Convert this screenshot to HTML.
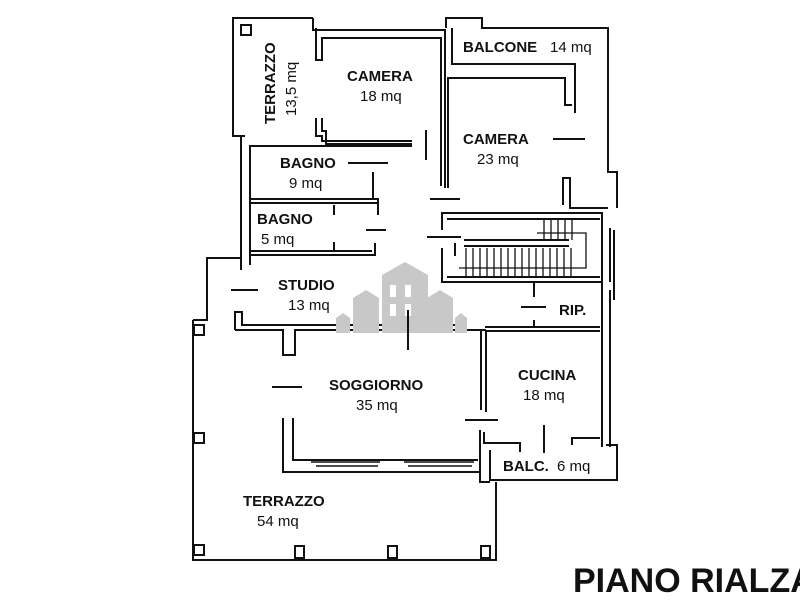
<!DOCTYPE html>
<html><head><meta charset="utf-8"><style>
html,body{margin:0;padding:0;background:#fff;width:800px;height:600px;overflow:hidden}
svg{display:block}
text{font-family:"Liberation Sans",Arial,sans-serif;fill:#111}
.b{font-weight:bold;font-size:15px}
.n{font-size:15px}
</style></head><body>
<svg width="800" height="600" viewBox="0 0 800 600" xmlns="http://www.w3.org/2000/svg">
<g fill="none" stroke="#111" stroke-width="2">
<!-- terrazzo 13,5 -->
<path d="M313,18 H233 V136 H245"/>
<rect x="241" y="25" width="10" height="10"/>
<!-- camera 18 -->
<path d="M313,18 V30 H445 V188"/>
<path d="M316,28 V60 H322 V38 H441 V186"/>
<path d="M316,118 V136 H322 V141 H412"/>
<path d="M322,118 V131 H326 V144 H412"/>
<line x1="426" y1="130" x2="426" y2="160"/>
<!-- balcone / camera 23 -->
<path d="M446,28 V18 H482 V28 H608 V172 H617 V208"/>
<path d="M452,28 V64 H575 V113"/>
<path d="M448,188 V78 H565 V105 H572"/>
<path d="M563,205 V178 H570 V208 H608"/>
<line x1="553" y1="139" x2="585" y2="139"/>
<!-- left walls -->
<path d="M241,136 V270"/>
<path d="M250,145 V265"/>
<!-- bagno 9 -->
<path d="M250,146 H412"/>
<path d="M250,199 H378 V215"/>
<path d="M250,203 H378"/>
<line x1="373" y1="172" x2="373" y2="200"/>
<line x1="348" y1="163" x2="388" y2="163"/>
<!-- bagno 5 -->
<path d="M250,255 H375 V243"/>
<path d="M250,251 H372"/>
<line x1="334" y1="205" x2="334" y2="215"/>
<line x1="334" y1="242" x2="334" y2="252"/>
<line x1="366" y1="230" x2="386" y2="230"/>
<!-- corridor marks -->
<line x1="430" y1="199" x2="460" y2="199"/>
<line x1="427" y1="237" x2="461" y2="237"/>
<!-- stair block -->
<path d="M442,230 V213 H602 V282 H442 V248"/>
<path d="M447,219 H600"/>
<path d="M447,277 H600"/>
<path d="M464,240 H569 M464,246 H569"/>
<path d="M466,248 V277 M473,248 V277 M480,248 V277 M487,248 V277 M494,248 V277 M501,248 V277 M508,248 V277 M515,248 V277 M522,248 V277 M529,248 V277 M536,248 V277 M543,248 V277 M550,248 V277 M557,248 V277 M564,248 V277 M571,248 V277" stroke-width="1.3"/>
<path d="M544,218 V240 M551,218 V240 M558,218 V240 M565,218 V240 M572,218 V240" stroke-width="1.3"/>
<path d="M537,233 H586 V268 H459" stroke-width="1.3"/>
<path d="M602,218 V290 M610,228 V282" />
<line x1="455" y1="243" x2="455" y2="256"/>
<!-- rip -->
<path d="M485,331 H600"/>
<path d="M485,327 H600"/>
<line x1="521" y1="307" x2="546" y2="307"/>
<line x1="534" y1="283" x2="534" y2="297"/>
<line x1="534" y1="320" x2="534" y2="328"/>
<path d="M602,290 V447 M614,230 V300 M610,290 V447"/>
<!-- studio -->
<path d="M241,258 H207 V320 H193"/>
<line x1="231" y1="290" x2="258" y2="290"/>
<path d="M235,330 V312 H242 V325 H460"/>
<path d="M235,330 H283 V355 H295 V330 H486"/>
<line x1="408" y1="306" x2="408" y2="350"/>
<!-- soggiorno -->
<path d="M486,330 V412 M481,330 V410"/>
<line x1="272" y1="387" x2="302" y2="387"/>
<line x1="465" y1="420" x2="498" y2="420"/>
<path d="M283,418 V472 H481"/>
<path d="M293,418 V460 H478"/>
<path d="M311,462 H380 M316,466 H378 M404,462 H474 M408,466 H472" stroke-width="1.5"/>
<path d="M480,430 V482 H490"/>
<path d="M484,432 V443 H520 V452"/>
<!-- balc -->
<path d="M490,450 V480 H617 V445 H606"/>
<path d="M572,445 V438 H600"/>
<line x1="544" y1="425" x2="544" y2="453"/>
<!-- terrazzo 54 -->
<path d="M193,320 V560 H496 V482"/>
<path d="M193,320 H207"/>
<rect x="194" y="325" width="10" height="10"/>
<rect x="194" y="433" width="10" height="10"/>
<rect x="194" y="545" width="10" height="10"/>
<rect x="295" y="546" width="9" height="12"/>
<rect x="388" y="546" width="9" height="12"/>
<rect x="481" y="546" width="9" height="12"/>
</g>
<!-- watermark -->
<g fill="#c8c8c8">
<polygon points="382,275 405,262 428,275 428,333 382,333"/>
<polygon points="353,298 366,290 379,298 379,333 353,333"/>
<polygon points="427,298 440,290 453,298 453,333 427,333"/>
<polygon points="336,318 343,313 350,318 350,333 336,333"/>
<polygon points="455,318 461,313 467,318 467,333 455,333"/>
</g>
<g fill="#fff"><rect x="390" y="285" width="6" height="12"/><rect x="405" y="285" width="6" height="12"/><rect x="390" y="304" width="6" height="12"/><rect x="405" y="304" width="6" height="12"/></g>
<line x1="408" y1="310" x2="408" y2="350" stroke="#111" stroke-width="2"/>
<!-- labels -->
<text class="b" x="347" y="81">CAMERA</text>
<text class="n" x="360" y="101">18 mq</text>
<text class="b" transform="translate(275,124) rotate(-90)">TERRAZZO</text>
<text class="n" transform="translate(296,116) rotate(-90)">13,5 mq</text>
<text class="b" x="463" y="52">BALCONE</text><text class="n" x="550" y="52">14 mq</text>
<text class="b" x="463" y="144">CAMERA</text>
<text class="n" x="477" y="164">23 mq</text>
<text class="b" x="280" y="168">BAGNO</text>
<text class="n" x="289" y="188">9 mq</text>
<text class="b" x="257" y="224">BAGNO</text>
<text class="n" x="261" y="244">5 mq</text>
<text class="b" x="278" y="290">STUDIO</text>
<text class="n" x="288" y="310">13 mq</text>
<text class="b" x="559" y="315">RIP.</text>
<text class="b" x="329" y="390">SOGGIORNO</text>
<text class="n" x="356" y="410">35 mq</text>
<text class="b" x="518" y="380">CUCINA</text>
<text class="n" x="523" y="400">18 mq</text>
<text class="b" x="503" y="471">BALC.</text><text class="n" x="557" y="471">6 mq</text>
<text class="b" x="243" y="506">TERRAZZO</text>
<text class="n" x="257" y="526">54 mq</text>
<text x="573" y="592" style="font-weight:bold;font-size:34px">PIANO RIALZATO</text>
</svg>
</body></html>
